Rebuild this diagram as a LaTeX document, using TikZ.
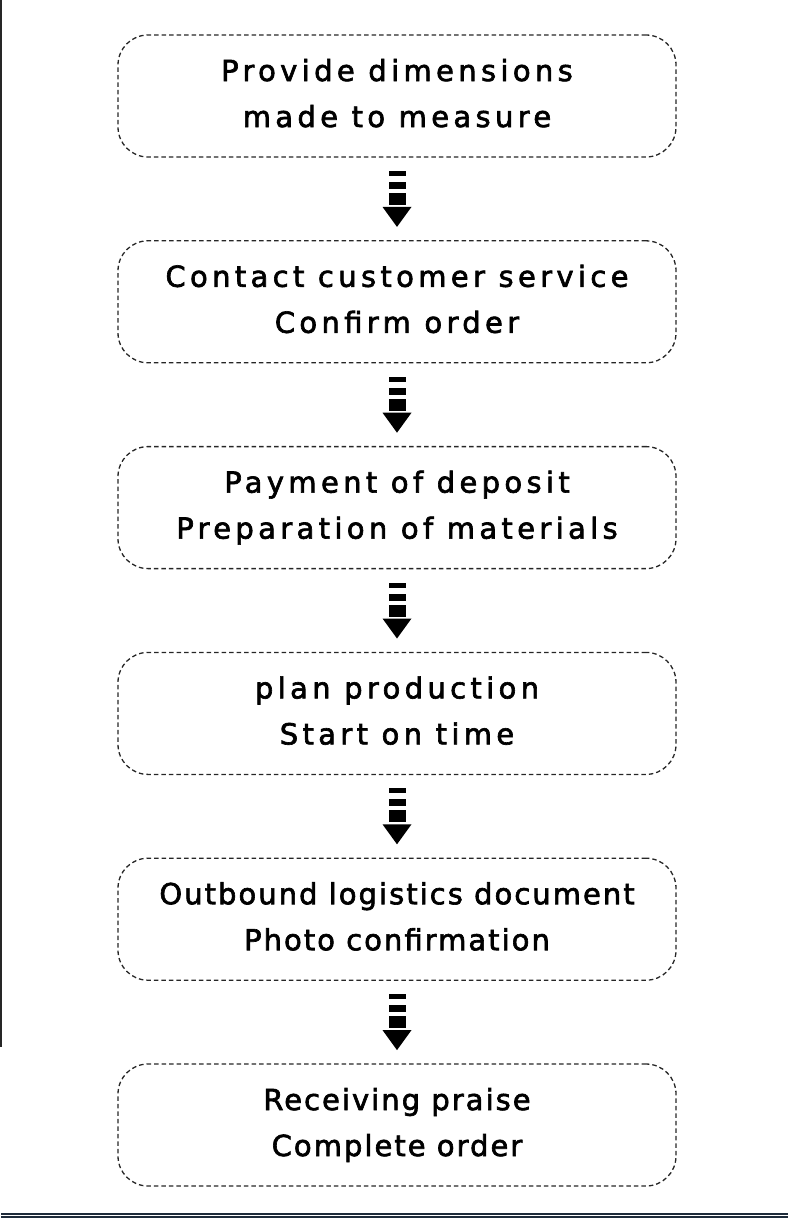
\documentclass[tikz,border=0pt]{standalone}
\usepackage{fontspec}
\newfontfamily\wideface[LetterSpace=15, FakeBold=2.2]{DejaVu Sans}
\newfontfamily\tightface[LetterSpace=7, FakeBold=2.2]{DejaVu Sans}
\usepackage{tikz}
\usetikzlibrary{positioning, calc}

\definecolor{rulenavy}{HTML}{1E2B3A}

\tikzset{
  stepbox/.style={draw=black!85, line width=1.3pt, dash pattern=on 4.5pt off 3pt,
    rounded corners=30pt, minimum width=558pt, minimum height=122pt, outer sep=0pt,
    align=center, text depth=6pt, font=\wideface\fontsize{29}{46}\selectfont},
  tightbox/.style={stepbox, font=\tightface\fontsize{29}{46}\selectfont},
  barrow/.pic={
    \fill (-8.5,-28) rectangle (8.5,-23);
    \fill (-8.5,-17) rectangle (8.5,-10);
    \fill (-8.5,-6) rectangle (8.5,6);
    \fill (-14.5,8) -- (14.5,8) -- (0,28) -- cycle;
  }
}

\begin{document}
\begin{tikzpicture}[x=1pt, y=-1pt]
  \useasboundingbox (0,0) rectangle (790,1218);
  % frame lines
  \fill[black!85] (0,0) rectangle (1.6,1047);
  \draw[rulenavy, line width=1.2pt] (1,1214) -- (788,1214);
  \draw[rulenavy, line width=1.2pt] (1,1217) -- (788,1217);

  % the six steps
  \node[stepbox] (s1) at (397,96) {Provide dimensions\\made to measure};
  \node[stepbox, below=83.8pt of s1] (s2) {Contact customer service\\Confirm order};
  \node[stepbox, below=83.8pt of s2] (s3) {Payment of deposit\\Preparation of materials};
  \node[stepbox, below=83.8pt of s3] (s4) {plan production\\Start on time};
  \node[tightbox, below=83.8pt of s4] (s5) {Outbound logistics document\\Photo confirmation};
  \node[tightbox, below=83.8pt of s5] (s6) {Receiving praise\\Complete order};

  % arrows between steps
  \foreach \a/\b in {s1/s2, s2/s3, s3/s4, s4/s5, s5/s6}
    \path ($(\a.south)!0.5!(\b.north)$) pic {barrow};
\end{tikzpicture}
\end{document}
